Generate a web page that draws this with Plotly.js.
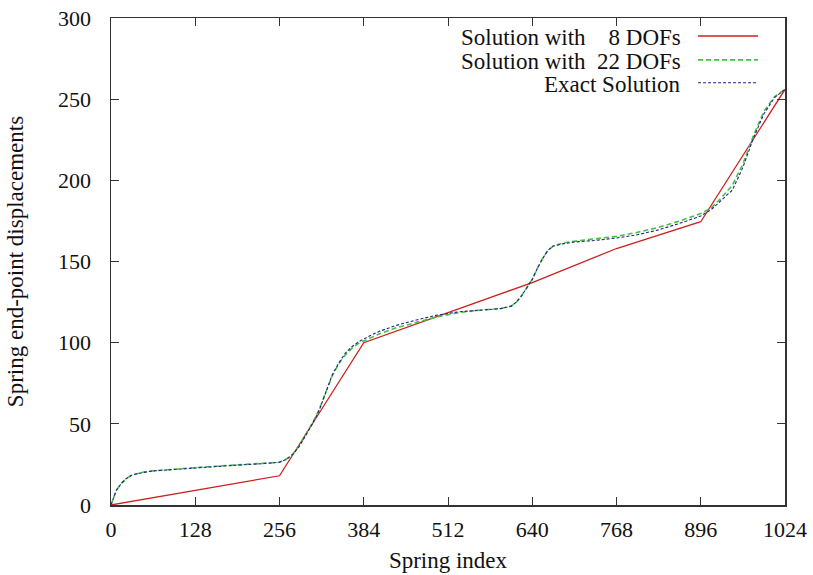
<!DOCTYPE html>
<html>
<head>
<meta charset="utf-8">
<script src="https://cdn.plot.ly/plotly-3.0.1.min.js"></script>
<style>html,body{margin:0;padding:0;background:#fff;}#chart{width:813px;height:575px;}</style>
</head>
<body>
<div id="chart"></div>
<script>
// Data
const coarseX = [0, 128, 256, 384, 512, 640, 768, 896, 1024];
const coarseY = [0, 9, 18, 100, 118.5, 137, 158, 174.5, 256];

const fineX = [0, 4, 8, 16, 24, 32, 48, 64, 96, 128, 160, 192, 224, 256, 266, 276, 286, 296, 306, 316, 326, 336, 346, 356, 366, 376, 392, 408, 432, 464, 496, 528, 560, 592, 608, 616, 624, 632, 640, 648, 656, 664, 672, 688, 704, 736, 768, 800, 832, 864, 896, 912, 928, 944, 960, 976, 992, 1008, 1024];
const dof22Y = [0, 5, 9, 13.5, 16.5, 18.5, 20.2, 21, 22.2, 23, 23.9, 24.6, 25.4, 26.3, 28.2, 31.2, 36.5, 43.5, 50.5, 58.5, 69.5, 79.5, 87, 92.5, 96.5, 99.5, 102.5, 105.5, 109, 112.5, 116, 118.5, 120, 121, 122.5, 125, 129, 134, 139, 146, 152, 157, 159.5, 161.5, 162.5, 164, 165.5, 168, 171, 175, 179.5, 183, 189.5, 197, 210, 227.5, 242.5, 251.5, 256];
const exactY = [0, 5, 9, 13.5, 16.5, 18.5, 20, 21, 22, 23, 23.8, 24.6, 25.3, 26.3, 28, 31, 36, 43, 50, 58, 69, 80, 87.5, 93.5, 97.5, 100.5, 104, 107, 110.5, 114, 117, 119, 120, 121, 122.5, 125, 129, 134, 139, 146, 152, 157, 159.5, 161, 162, 163, 164.5, 166.5, 169.5, 173.5, 178, 182, 188, 194, 208, 226, 241, 251, 256];

const xTicks = [0, 128, 256, 384, 512, 640, 768, 896, 1024];
const seriesNames = ['Solution with\u00a0\u00a0\u00a0\u00a08 DOFs', 'Solution with\u00a0\u00a022 DOFs', 'Exact Solution'];
const xTitle = 'Spring index';
const yTitle = 'Spring end-point displacements';

const colors = ['#cc2020', '#44c244', '#22228a'];
const dashes = ['solid', '5px,3px', '3px,2px'];
const widths = [1.3, 1.6, 1.1];

const FONT = 'Liberation Serif';

const traces = [
  {x: coarseX, y: coarseY, name: seriesNames[0], mode: 'lines', line: {color: colors[0], width: widths[0], dash: dashes[0]}},
  {x: fineX, y: dof22Y, name: seriesNames[1], mode: 'lines', line: {color: colors[1], width: widths[1], dash: dashes[1]}},
  {x: fineX, y: exactY, name: seriesNames[2], mode: 'lines', line: {color: colors[2], width: widths[2], dash: dashes[2]}}
];

// gnuplot-style legend: right-aligned text with line sample to its right
const legRowY = [0.960, 0.911, 0.864];
const annotations = seriesNames.map((t, i) => ({
  xref: 'paper', yref: 'paper', x: 0.849, y: legRowY[i], xanchor: 'right', yanchor: 'middle',
  text: t, showarrow: false, font: {family: FONT, size: 23, color: '#111'}
}));
const shapes = seriesNames.map((t, i) => ({
  type: 'line', xref: 'paper', yref: 'paper', x0: 0.871, x1: 0.960, y0: legRowY[i] + 0.003, y1: legRowY[i] + 0.003,
  line: {color: colors[i], width: widths[i], dash: dashes[i]}
}));

const axisCommon = {
  showgrid: false, zeroline: false, showline: true, linecolor: '#333', linewidth: 1.5,
  mirror: 'ticks', ticks: 'inside', ticklen: 8, tickwidth: 1, tickcolor: '#333',
  tickfont: {family: FONT, size: 22, color: '#111'}
};

const layout = {
  width: 813, height: 575,
  margin: {l: 111, r: 28, t: 18, b: 70},
  paper_bgcolor: '#fff', plot_bgcolor: '#fff',
  showlegend: false,
  font: {family: FONT, size: 22, color: '#111'},
  xaxis: Object.assign({}, axisCommon, {
    range: [0, 1024], tickmode: 'array', tickvals: xTicks, ticktext: xTicks.map(String),
    ticklabelstandoff: 4,
    title: {text: xTitle, font: {family: FONT, size: 23, color: '#111'}, standoff: 11}
  }),
  yaxis: Object.assign({}, axisCommon, {
    range: [0, 300], tickmode: 'linear', tick0: 0, dtick: 50,
    ticklabelstandoff: 14,
    title: {text: yTitle, font: {family: FONT, size: 23, color: '#111'}, standoff: 28}
  }),
  annotations: annotations,
  shapes: shapes
};

Plotly.newPlot('chart', traces, layout, {displayModeBar: false, staticPlot: true});
</script>
</body>
</html>
